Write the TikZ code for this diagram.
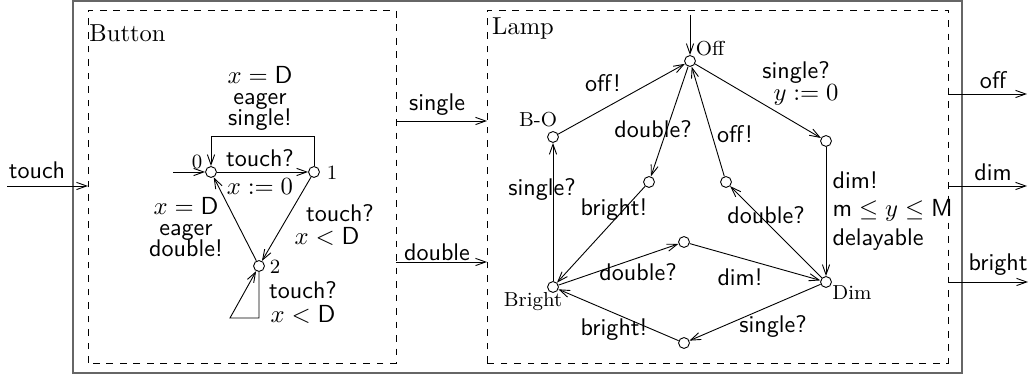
\documentclass[tikz,border=0pt]{standalone}
\usepackage{amsmath}
\usepackage{tikz}
\usetikzlibrary{arrows.meta,positioning}
\newcommand\cD{\mathsf{D}}
\newcommand\cM{\mathsf{M}}
\newcommand\cmin{\mathsf{m}}

\begin{document}
\begin{tikzpicture}[x=.1561cm,y=.1561cm,>={Straight Barb[length=4.5pt,width=3.2pt]}]%
        \useasboundingbox (0,0) rectangle (103,37.7);%%
        %\draw[step=1,color=gray,very thin] (0,0) grid (103,37.7);%%
        \draw[black!60,line width=.8pt] (7.3,.4) rectangle (96.2,37.6);%%
        \draw[dashed] (8.8,1.4) rectangle (39.6,36.7);%%
        \draw[dashed] (48.7,1.4) rectangle (94.8,36.7);%%
        \node[font=\fontsize{10.9}{13}\selectfont] (nbutton) at (12.75,34.4) {Button}; %%
        \node[font=\fontsize{10.9}{13}\selectfont] (nlamp) at (52.3,34.8) {Lamp}; %%
        \begin{scope}[shape=circle,inner sep=0pt,minimum size=1.7mm]
        \tikzstyle{every node}=[draw,fill=white] %%
        \node (b0) at (21.1,20.5) {}; %%
        \node (b1) at (31.4,20.5) {}; %%
        \node (b2) at (25.9,11.1) {}; %%
        \node (off) at (69.0,31.6) {}; %%
        \node (bo) at (55.3,24.0) {}; %%
        \node (offdbl) at (64.9,19.5) {}; %%
        \node (dimdbl) at (72.6,19.5) {}; %%
        \node (offsgl) at (82.6,23.6) {}; %%
        \node (dim) at (82.6,9.5) {}; %%
        \node (brdbl) at (68.4,13.5) {}; %%
        \node (bright) at (55.3,9.0) {}; %%
        \node (dimsgl) at (68.4,3.4) {}; %%
        \end{scope}
        \begin{scope}[inner sep=1pt]
        \tikzstyle{every node}=[font=\small] %%
        \node (nb0) at (19.7,21.5) {0}; %%
        \node (nb1) at (33.2,20.4) {1}; %%
        \node (nb2) at (27.5,11.0) {2}; %%
        \node (noff) at (71.0,32.8) {Off}; %%
        \node (nbo) at (53.8,25.7) {B-O}; %%
        \node (nbright) at (53.3,7.5) {Bright}; %%
        \node (ndim) at (85.2,8.4) {Dim}; %%
        \end{scope}
        \begin{scope}[inner sep=1pt,align=center]
        \tikzstyle{every node}=[font=\sffamily\fontsize{10.7}{12.8}\selectfont] %%
        \node (ltouch) at (3.7,20.7) {touch}; %%
        \node (lsingle) at (43.7,27.2) {single}; %%
        \node (ldouble) at (43.7,12.5) {double}; %%
        \node (loff) at (99.3,29.7) {off}; %%
        \node (ldim) at (99.3,20.5) {dim}; %%
        \node (lbright) at (99.8,11.2) {bright}; %%
        \node (l10) at (26.0,27.85) {$x=\cD$\\[-3.4pt]eager\\[-3.4pt]single!}; %%
        \node (l01a) at (26.0,21.9) {touch?}; %%
        \node (l01b) at (26.0,19.0) {$x:=0$}; %%
        \node[inner sep=0pt] (l12a) at (34.0,16.4) {touch?}; %%
        \node[inner sep=0pt] (l12b) at (32.7,14.1) {$x<\cD$}; %%
        \node (l20) at (18.6,15.0) {$x=\cD$\\[-3.4pt]eager\\[-3.4pt]double!}; %%
        \node (l22) at (30.3,7.45) {touch?\\[-1.7pt]$x<\cD$}; %%
        \node (l1) at (60.3,29.4) {off!}; %%
        \node (l2a) at (79.6,30.4) {single?}; %%
        \node (l2b) at (80.6,28.2) {$y:=0$}; %%
        \node[anchor=west,align=left] (l3) at (83.0,16.6) {dim!\\[0pt]$\cmin\le y\le\cM$\\[0pt]delayable}; %%
        \node (l4) at (65.3,24.8) {double?}; %%
        \node (l5) at (73.5,24.3) {off!}; %%
        \node (l6) at (54.2,18.7) {single?}; %%
        \node (l7) at (61.4,16.7) {bright!}; %%
        \node (l8) at (76.6,16.2) {double?}; %%
        \node (l9) at (63.8,10.5) {double?}; %%
        \node (l11) at (74.0,10.0) {dim!}; %%
        \node (l12) at (61.4,4.7) {bright!}; %%
        \node (l13) at (77.3,5.1) {single?}; %%
        \end{scope}
        \coordinate (tin) at (.7,19.1); %%
        \coordinate (tbut) at (8.8,19.1); %%
        \coordinate (sout) at (39.6,25.6); %%
        \coordinate (sin) at (48.7,25.6); %%
        \coordinate (dout) at (39.6,11.5); %%
        \coordinate (din) at (48.7,11.5); %%
        \coordinate (ooff) at (94.8,28.3); %%
        \coordinate (eoff) at (102.7,28.3); %%
        \coordinate (odim) at (94.8,19.1); %%
        \coordinate (edim) at (102.7,19.1); %%
        \coordinate (obright) at (94.8,9.5); %%
        \coordinate (ebright) at (102.8,9.5); %%
        \coordinate (ib0) at (17.3,20.5); %%
        \coordinate (ioff) at (69.0,36.2); %%
        \coordinate (lp2) at (23.0,5.9); %%
        \draw[->] (tin)--(tbut); %%
        \draw[->] (sout)--(sin); %%
        \draw[->] (dout)--(din); %%
        \draw[->] (ooff)--(eoff); %%
        \draw[->] (odim)--(edim); %%
        \draw[->] (obright)--(ebright); %%
        \draw[->] (ib0)--(b0); %%
        \draw[->] (b0)--(b1); %%
        \draw[->] (b1.north)-- ++(0,3)-|(b0.north); %%
        \draw[->] (b1)--(b2); %%
        \draw[->] (b2)--(b0); %%
        \draw[->] (b2.south)|-(lp2)--(b2); %%
        \draw[->] (ioff)--(off); %%
        \draw[->] (bo)--(off); %%
        \draw[->] (off)--(offsgl); %%
        \draw[->] (offsgl)--(dim); %%
        \draw[->] (off)--(offdbl); %%
        \draw[->] (offdbl)--(bright); %%
        \draw[->] (dimdbl)--(off); %%
        \draw[->] (dim)--(dimdbl); %%
        \draw[->] (bright)--(brdbl); %%
        \draw[->] (brdbl)--(dim); %%
        \draw[->] (dim)--(dimsgl); %%
        \draw[->] (dimsgl)--(bright); %%
        \draw[->] (bright)--(bo); %%
        \end{tikzpicture}
\end{document}
